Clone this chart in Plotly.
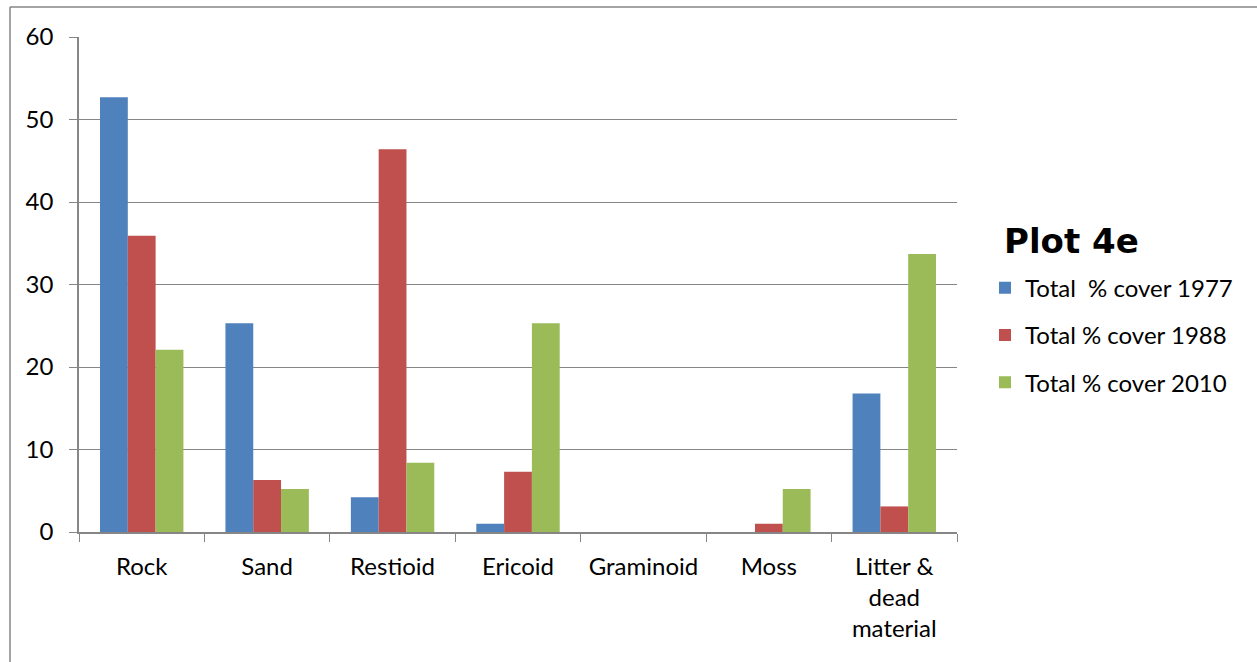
import plotly.graph_objects as go

categories = ["Rock", "Sand", "Restioid", "Ericoid", "Graminoid", "Moss",
              "Litter &<br>dead<br>material"]
cover_1977 = [52.7, 25.3, 4.2, 1.0, 0, 0, 16.8]
cover_1988 = [35.9, 6.3, 46.4, 7.3, 0, 1.0, 3.1]
cover_2010 = [22.1, 5.2, 8.4, 25.3, 0, 5.2, 33.7]
series_names = ["Total  % cover 1977", "Total % cover 1988", "Total % cover 2010"]
colors = ["#4F81BD", "#C0504D", "#9BBB59"]
y_ticks = [0, 10, 20, 30, 40, 50, 60]

W, H = 1257, 662
left, right, top, bottom = 79, 957, 37, 532.5

FONT = "Lato, 'Open Sans', sans-serif"
GRID = "#868686"

fig = go.Figure()
for name, vals, col in zip(series_names, [cover_1977, cover_1988, cover_2010], colors):
    fig.add_trace(go.Bar(
        x=categories, y=vals, name=name, marker=dict(color=col, line=dict(width=0)),
        legendgroup=name,
    ))

def px_x(p):
    return (p - left) / (right - left)

def px_y(p):
    return (bottom - p) / (bottom - top)

fig.update_layout(
    width=W, height=H,
    margin=dict(l=left, r=W - right, t=top, b=H - bottom, autoexpand=False),
    paper_bgcolor="white", plot_bgcolor="white",
    barmode="group", bargap=0.335, bargroupgap=0,
    font=dict(family=FONT, size=24, color="black"),
    showlegend=True,
    legend=dict(
        x=px_x(985), y=px_y(266), xanchor="left", yanchor="top",
        font=dict(family=FONT, size=24, color="black"),
        tracegroupgap=13, bgcolor="rgba(0,0,0,0)",
    ),
    xaxis=dict(
        showline=True, linecolor=GRID, linewidth=1.5,
        ticks="outside", tickson="boundaries", ticklen=8, tickcolor=GRID,
        showgrid=False, tickfont=dict(size=24), ticklabelstandoff=12,
    ),
    yaxis=dict(
        range=[0, 60], tickvals=y_ticks, showline=True, linecolor=GRID,
        linewidth=1.5, ticks="outside", ticklen=8, tickcolor=GRID,
        showgrid=True, gridcolor=GRID, gridwidth=1, zeroline=False,
        tickfont=dict(size=24), ticklabelstandoff=11,
    ),
    shapes=[
        # outer frame (top and left edges)
        dict(type="line", xref="paper", yref="paper",
             x0=px_x(10), x1=px_x(W + 5), y0=px_y(7), y1=px_y(7),
             line=dict(color=GRID, width=1.5)),
        dict(type="line", xref="paper", yref="paper",
             x0=px_x(10), x1=px_x(10), y0=px_y(7), y1=px_y(H + 5),
             line=dict(color=GRID, width=1.5)),
    ],
    annotations=[
        dict(text="<b>Plot 4e</b>", xref="paper", yref="paper",
             x=px_x(1002), y=px_y(241), xanchor="left", yanchor="middle",
             showarrow=False,
             font=dict(family="'DejaVu Sans', sans-serif", size=34, color="black")),
    ],
)

fig.write_html("out.html")
